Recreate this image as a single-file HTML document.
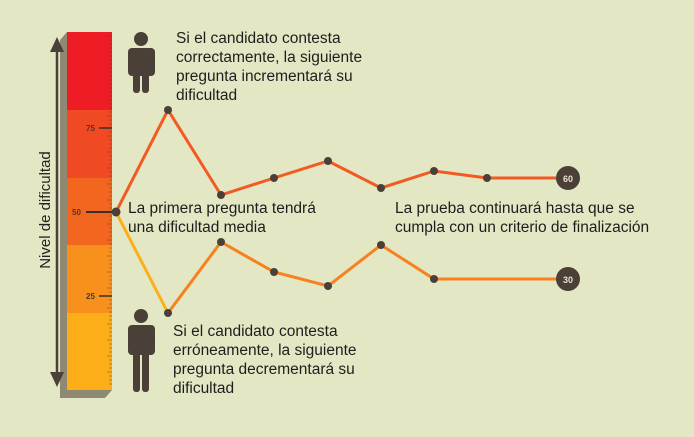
<!DOCTYPE html>
<html><head><meta charset="utf-8"><style>
body{margin:0;background:#e3e7c4;}
svg{display:block;font-family:"Liberation Sans",sans-serif;}
</style></head><body>
<svg width="694" height="437" viewBox="0 0 694 437">
<rect width="694" height="437" fill="#e3e7c4"/>
<polygon points="60,40 67,32 67,390 112,390 105,398 60,398" fill="#8f8873"/>
<rect x="67" y="32" width="45" height="78" fill="#ee1d25"/>
<rect x="67" y="110" width="45" height="68" fill="#ef4a23"/>
<rect x="67" y="178" width="45" height="67" fill="#f3661f"/>
<rect x="67" y="245" width="45" height="68" fill="#f7901d"/>
<rect x="67" y="313" width="45" height="77" fill="#fcae18"/>
<g fill="none" stroke="#5a3d2a" stroke-width="0.8" opacity="0.55">
<path d="M107 36h5M109 40h3M109 44h3M109 48h3M107 52h5M109 56h3M109 60h3M109 64h3M107 68h5M109 72h3M109 76h3M109 80h3M107 84h5M109 88h3M109 92h3M109 96h3M107 100h5M109 104h3M109 108h3M109 112h3M107 116h5M109 120h3M109 124h3M109 132h3M107 136h5M109 140h3M109 144h3M109 148h3M107 152h5M109 156h3M109 160h3M109 164h3M107 168h5M109 172h3M109 176h3M109 180h3M107 184h5M109 188h3M109 192h3M109 196h3M107 200h5M109 204h3M109 208h3M109 216h3M109 220h3M107 224h5M109 228h3M109 232h3M109 236h3M107 240h5M109 244h3M109 248h3M109 252h3M107 256h5M109 260h3M109 264h3M109 268h3M107 272h5M109 276h3M109 280h3M109 284h3M107 288h5M109 292h3M109 300h3M109 304h3M107 308h5M109 312h3M109 316h3M109 320h3M107 324h5M109 328h3M109 332h3M109 336h3M107 340h5M109 344h3M109 348h3M109 352h3M107 356h5M109 360h3M109 364h3M109 368h3M107 372h5M109 376h3M109 380h3M109 384h3"/>
</g>
<g stroke="#3a3028" stroke-width="1.5"><path d="M99 128h13M99 296h13"/></g>
<path d="M86 212h30" stroke="#3a3028" stroke-width="2"/>
<g font-size="8" font-weight="bold" fill="#4a3a2a">
<text x="86" y="131">75</text><text x="72" y="215">50</text><text x="86" y="299">25</text>
</g>
<path d="M57 50V375" stroke="#4a4038" stroke-width="2.5"/>
<polygon points="50,52 57,37 64,52" fill="#4a4038"/>
<polygon points="50,372 57,387 64,372" fill="#4a4038"/>
<text transform="translate(50,210) rotate(-90)" text-anchor="middle" font-size="15" fill="#222">Nivel de dificultad</text>
<g fill="#4a4038">
<circle cx="141" cy="39" r="7"/>
<rect x="128" y="48" width="27" height="28" rx="4"/>
<rect x="133" y="60" width="7" height="33" rx="3"/><rect x="142" y="60" width="7" height="33" rx="3"/>
<circle cx="141" cy="316" r="7"/>
<rect x="128" y="325" width="27" height="30" rx="4"/>
<rect x="133" y="338" width="7" height="54" rx="3"/><rect x="142" y="338" width="7" height="54" rx="3"/>
</g>
<polyline points="116,212 168,110 221,195 274,178 328,161 381,188 434,171 487,178 568,178" fill="none" stroke="#f25a22" stroke-width="3"/>
<polyline points="116,212 168,313" fill="none" stroke="#fbb01a" stroke-width="3"/>
<polyline points="168,313 221,242 274,272 328,286 381,245 434,279 568,279" fill="none" stroke="#f7801f" stroke-width="3"/>
<g fill="#4a4038">
<circle cx="116" cy="212" r="4.5"/><circle cx="168" cy="110" r="4"/><circle cx="221" cy="195" r="4"/><circle cx="274" cy="178" r="4"/><circle cx="328" cy="161" r="4"/><circle cx="381" cy="188" r="4"/><circle cx="434" cy="171" r="4"/><circle cx="487" cy="178" r="4"/>
<circle cx="168" cy="313" r="4"/><circle cx="221" cy="242" r="4"/><circle cx="274" cy="272" r="4"/><circle cx="328" cy="286" r="4"/><circle cx="381" cy="245" r="4"/><circle cx="434" cy="279" r="4"/>
<circle cx="568" cy="178" r="12"/><circle cx="568" cy="279" r="12"/>
</g>
<g font-size="9" font-weight="bold" fill="#e8e0d0" text-anchor="middle">
<text x="568" y="182">60</text><text x="568" y="283">30</text></g>
<g font-size="15.5" fill="#1e1e1e">
<text x="176" y="43">Si el candidato contesta</text>
<text x="176" y="62">correctamente, la siguiente</text>
<text x="176" y="81">pregunta incrementará su</text>
<text x="176" y="100">dificultad</text>
<text x="128" y="213">La primera pregunta tendrá</text>
<text x="128" y="232">una dificultad media</text>
<text x="395" y="213">La prueba continuará hasta que se</text>
<text x="395" y="232">cumpla con un criterio de finalización</text>
<text x="173" y="336">Si el candidato contesta</text>
<text x="173" y="355">erróneamente, la siguiente</text>
<text x="173" y="374">pregunta decrementará su</text>
<text x="173" y="393">dificultad</text>
</g>
</svg>
</body></html>
